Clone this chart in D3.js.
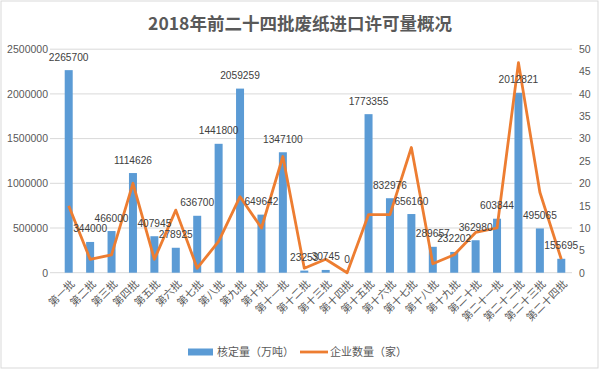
<!DOCTYPE html>
<html><head><meta charset="utf-8">
<script src="https://cdn.jsdelivr.net/npm/d3@7"></script>
<style>
body{margin:0;background:#fff;}
text{font-family:"Liberation Sans","Noto Sans CJK SC",sans-serif;}
</style></head>
<body><svg id="c" width="600" height="371"></svg>
<script>
const categories = ["第一批","第二批","第三批","第四批","第五批","第六批","第七批","第八批","第九批","第十批","第十一批","第十二批","第十三批","第十四批","第十五批","第十六批","第十七批","第十八批","第十九批","第二十批","第二十一批","第二十二批","第二十三批","第二十四批"];
const approved = [2265700,344000,466000,1114626,407945,278925,636700,1441800,2059259,649642,1347100,23253,30745,0,1773355,832976,656160,289657,232202,362980,603844,2012821,495065,155695];
const companies = [15,3,4,20,3,14,1,7,17,10,26,1,3,0,13,13,28,2,4,9,10,47,18,3];
const leftTicks = [0,500000,1000000,1500000,2000000,2500000];
const rightTicks = [0,5,10,15,20,25,30,35,40,45,50];
const title = "2018年前二十四批废纸进口许可量概况";
const legendLabels = ["核定量（万吨）","企业数量（家）"];

(function(){
const svg = d3.select("#c");
const W = 600, H = 371;
const pLeft = 50, pRight = 572, pTop = 49.2, pBottom = 272.7;
const blue = "#5b9bd5", orange = "#ed7d31";

svg.append("rect").attr("x",1).attr("y",1).attr("width",W-3).attr("height",H-4)
  .attr("fill","#fff").attr("stroke","#d9d9d9").attr("stroke-width",1);

const x = d3.scaleBand().domain(categories).range([58, 572]).padding(0);
const y = d3.scaleLinear().domain([0,2500000]).range([pBottom, pTop]);
const y2 = d3.scaleLinear().domain([0,50]).range([pBottom, pTop]);

// gridlines
svg.append("g").selectAll("line").data(leftTicks).join("line")
  .attr("x1",pLeft).attr("x2",pRight).attr("y1",d=>y(d)).attr("y2",d=>y(d))
  .attr("stroke","#d9d9d9").attr("stroke-width",1);

// left axis
const ga = svg.append("g").attr("transform",`translate(${pLeft-2},0)`)
  .call(d3.axisLeft(y).tickValues(leftTicks).tickSize(0).tickPadding(0).tickFormat(d3.format("d")));
ga.select(".domain").remove();
ga.selectAll("text").attr("font-size",10.5).attr("fill","#595959").style("font-family","'Liberation Sans'");

// right axis
const gb = svg.append("g").attr("transform",`translate(579,0)`)
  .call(d3.axisRight(y2).tickValues(rightTicks).tickSize(0).tickPadding(0));
gb.select(".domain").remove();
gb.selectAll("text").attr("font-size",10.5).attr("fill","#595959").style("font-family","'Liberation Sans'");

// bars
const bw = 8;
svg.append("g").selectAll("rect").data(approved).join("rect")
  .attr("x",(d,i)=>x(categories[i])+x.bandwidth()/2-bw/2)
  .attr("width",bw)
  .attr("y",d=>y(d)).attr("height",d=>pBottom-y(d)).attr("fill",blue);

// line
const line = d3.line().x((d,i)=>x(categories[i])+x.bandwidth()/2).y(d=>y2(d));
svg.append("path").datum(companies).attr("d",line).attr("fill","none")
  .attr("stroke",orange).attr("stroke-width",2.8).attr("stroke-linejoin","round");

// data labels
svg.append("g").selectAll("text").data(approved).join("text")
  .attr("x",(d,i)=>x(categories[i])+x.bandwidth()/2)
  .attr("y",d=>y(d)-9.5).attr("text-anchor","middle")
  .attr("font-size",10.2).attr("fill","#404040").style("font-family","'Liberation Sans'")
  .text(d=>d);

// category labels
svg.append("g").selectAll("text").data(categories).join("text")
  .attr("transform",(d)=>`translate(${x(d)+x.bandwidth()/2+4},${282}) rotate(-45)`)
  .attr("text-anchor","end").attr("dy","0.35em")
  .attr("font-size",10.5).attr("fill","#595959").style("font-family","'Noto Sans CJK SC'")
  .text(d=>d);

// title
svg.append("text").attr("x",300).attr("y",30).attr("text-anchor","middle")
  .attr("font-size",17.5).attr("font-weight","bold").attr("fill","#595959")
  .style("font-family","'Noto Sans CJK SC'").text(title);

// legend
const lg = svg.append("g");
lg.append("rect").attr("x",188).attr("y",348.5).attr("width",25).attr("height",7).attr("fill",blue);
lg.append("text").attr("x",217).attr("y",352).attr("dy","0.35em").attr("font-size",11)
  .attr("fill","#595959").style("font-family","'Noto Sans CJK SC'").text(legendLabels[0]);
lg.append("line").attr("x1",300).attr("x2",328).attr("y1",352).attr("y2",352)
  .attr("stroke",orange).attr("stroke-width",2.8);
lg.append("text").attr("x",330).attr("y",352).attr("dy","0.35em").attr("font-size",11)
  .attr("fill","#595959").style("font-family","'Noto Sans CJK SC'").text(legendLabels[1]);
})();
</script></body></html>
